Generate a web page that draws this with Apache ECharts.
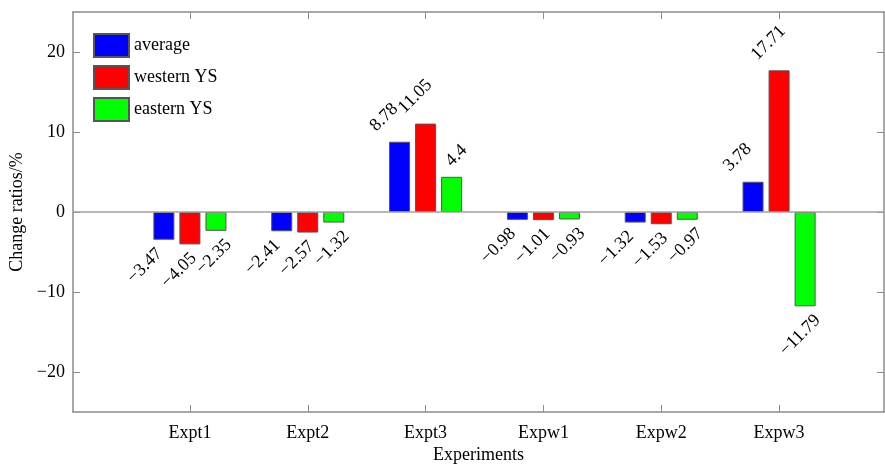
<!DOCTYPE html>
<html>
<head>
<meta charset="utf-8">
<script src="https://cdn.jsdelivr.net/npm/echarts@6/dist/echarts.min.js"></script>
<style>
html, body { margin: 0; padding: 0; background: #fff; }
#chart { width: 885px; height: 466px; }
</style>
</head>
<body>
<div id="chart"></div>
<script>
var categories = ['Expt1', 'Expt2', 'Expt3', 'Expw1', 'Expw2', 'Expw3'];
var average = [-3.47, -2.41, 8.78, -0.98, -1.32, 3.78];
var western = [-4.05, -2.57, 11.05, -1.01, -1.53, 17.71];
var eastern = [-2.35, -1.32, 4.4, -0.93, -0.97, -11.79];
var yTicks = [-20, -10, 0, 10, 20];

var FONT = '"Liberation Serif", "Times New Roman", serif';
var FS = 18;
var AXIS_GRAY = '#8c8c8c';

// measure label text so rotated labels can be placed like the original
var ctx = document.createElement('canvas').getContext('2d');
ctx.font = FS + 'px ' + FONT;

function fmt(v) {
    return String(v).replace('-', '\u2212');
}

// label offset is applied in the rotated frame, so turn a screen shift into it
function toLocal(sx, sy) {
    var c = Math.SQRT1_2;
    return [c * sx - c * sy, c * sx + c * sy];
}

function barData(values, dx) {
    return values.map(function (v) {
        var L = ctx.measureText(fmt(v)).width;
        var h = 12;
        var lab;
        if (v >= 0) {
            lab = { position: 'top', align: 'left',
                offset: toLocal(dx - 0.707 * L - 0.354 * h, -9 - 0.354 * h) };
        } else {
            lab = { position: 'bottom', align: 'right',
                offset: toLocal(dx - 0.354 * h, 7 + 0.354 * h) };
        }
        return { value: v, label: lab };
    });
}

function barSeries(name, values, color, dx) {
    return {
        name: name,
        type: 'bar',
        xAxisIndex: 2,
        yAxisIndex: 2,
        barWidth: 21,
        barGap: '24%',
        itemStyle: { color: color, borderColor: '#555', borderWidth: 1 },
        label: {
            show: true,
            rotate: 45,
            distance: 0,
            verticalAlign: 'middle',
            fontFamily: FONT,
            fontSize: FS,
            color: '#000',
            formatter: function (p) { return fmt(p.value); }
        },
        data: barData(values, dx)
    };
}

var chart = echarts.init(document.getElementById('chart'));

var option = {
    animation: false,
    backgroundColor: '#fff',
    legend: {
        orient: 'vertical',
        left: 93,
        top: 33,
        padding: 0,
        itemWidth: 35,
        itemHeight: 23,
        itemGap: 7,
        icon: 'rect',
        textStyle: { fontFamily: FONT, fontSize: FS, color: '#000' },
        data: ['average', 'western YS', 'eastern YS']
    },
    grid: [
        { left: 73, right: 1, top: 12, bottom: 54, outerBoundsMode: 'none' },
        { left: 131, right: 47, top: 12, bottom: 54, outerBoundsMode: 'none' }
    ],
    xAxis: [
        {
            gridIndex: 0, type: 'value', min: 0, max: 1, position: 'bottom',
            axisLine: { onZero: false, lineStyle: { color: AXIS_GRAY, width: 1.5 } },
            axisTick: { show: false }, axisLabel: { show: false }, splitLine: { show: false },
            name: 'Experiments', nameLocation: 'middle', nameGap: 34,
            nameTextStyle: { fontFamily: FONT, fontSize: FS, color: '#000' }
        },
        {
            gridIndex: 0, type: 'value', min: 0, max: 1, position: 'top',
            axisLine: { onZero: false, lineStyle: { color: AXIS_GRAY, width: 1.5 } },
            axisTick: { show: false }, axisLabel: { show: false }, splitLine: { show: false }
        },
        {
            gridIndex: 1, type: 'category', data: categories, position: 'bottom',
            axisLine: { show: false, onZero: false },
            axisTick: { show: true, inside: true, alignWithLabel: true, length: 7, lineStyle: { color: AXIS_GRAY } },
            axisLabel: { margin: 12, fontFamily: FONT, fontSize: FS, color: '#000' }
        },
        {
            gridIndex: 1, type: 'category', data: categories, position: 'top',
            axisLine: { show: false, onZero: false },
            axisTick: { show: true, inside: true, alignWithLabel: true, length: 7, lineStyle: { color: AXIS_GRAY } },
            axisLabel: { show: false }
        }
    ],
    yAxis: [
        {
            gridIndex: 0, type: 'value', min: -25, max: 25, position: 'left',
            axisLine: { show: true, onZero: false, lineStyle: { color: AXIS_GRAY, width: 1.5 } },
            axisTick: { show: true, inside: true, length: 7, customValues: yTicks, lineStyle: { color: AXIS_GRAY } },
            axisLabel: { customValues: yTicks, margin: 8, fontFamily: FONT, fontSize: FS, color: '#000', formatter: fmt },
            splitLine: { show: false },
            name: 'Change ratios/%', nameLocation: 'middle', nameGap: 45, nameRotate: 90,
            nameTextStyle: { fontFamily: FONT, fontSize: FS, color: '#000' }
        },
        {
            gridIndex: 0, type: 'value', min: -25, max: 25, position: 'right',
            axisLine: { show: true, onZero: false, lineStyle: { color: AXIS_GRAY, width: 1.5 } },
            axisTick: { show: true, inside: true, length: 7, customValues: yTicks, lineStyle: { color: AXIS_GRAY } },
            axisLabel: { show: false },
            splitLine: { show: false }
        },
        {
            gridIndex: 1, type: 'value', min: -25, max: 25, show: false
        }
    ],
    series: [
        {
            // zero reference line across the whole frame
            type: 'line', xAxisIndex: 0, yAxisIndex: 0, data: [], silent: true,
            markLine: {
                silent: true, symbol: 'none', label: { show: false },
                lineStyle: { color: '#a0a0a0', width: 1.5, type: 'solid' },
                data: [{ yAxis: 0 }]
            }
        },
        barSeries('average', average, '#0000ff', 0),
        barSeries('western YS', western, '#ff0000', 8),
        barSeries('eastern YS', eastern, '#00ff00', 17)
    ]
};

chart.setOption(option);
</script>
</body>
</html>
